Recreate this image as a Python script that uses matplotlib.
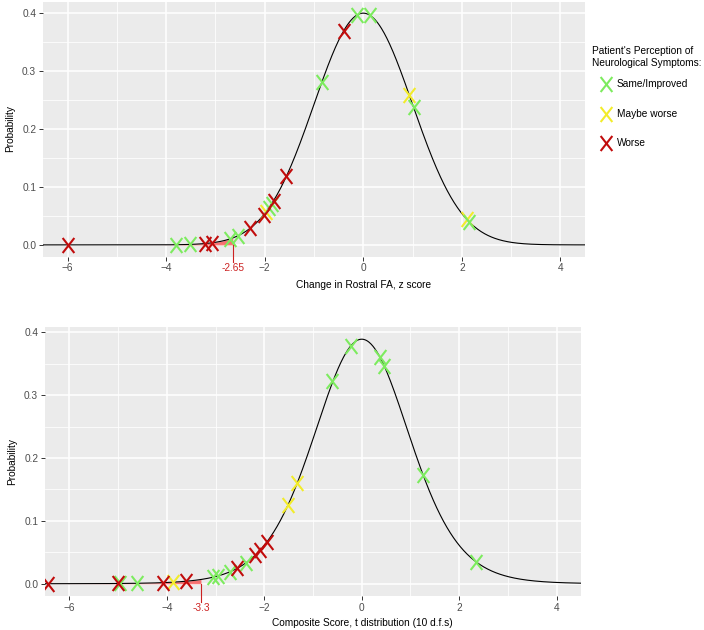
import numpy as np
import matplotlib
matplotlib.use("Agg")
import matplotlib.pyplot as plt
from matplotlib.path import Path
from matplotlib.lines import Line2D
from math import gamma, pi, sqrt

plt.rcParams['font.family'] = ['Liberation Sans', 'DejaVu Sans']

# ---- data ----
groups = ["Same/Improved", "Maybe worse", "Worse"]
colors = {"Same/Improved": "#7DEB5F", "Maybe worse": "#F2EC2B", "Worse": "#C10C0C"}

# top panel: change in rostral FA (z score) vs probability
fa_same_x = [-3.80, -3.51, -2.71, -2.55, -1.91, -1.86, -0.84, -0.12, 0.13, 1.02, 2.14]
fa_same_y = [0.0003, 0.0008, 0.010, 0.016, 0.064, 0.071, 0.280, 0.396, 0.396, 0.237, 0.040]
fa_maybe_x = [-1.98, 0.92, 2.10]
fa_maybe_y = [0.056, 0.258, 0.044]
fa_worse_x = [-6.0, -3.22, -3.08, -2.29, -2.02, -1.82, -1.56, -0.40]
fa_worse_y = [0.0, 0.002, 0.0035, 0.029, 0.052, 0.076, 0.118, 0.368]
fa_cut = -2.65

# bottom panel: composite score (t, 10 df) vs probability
cs_same_x = [-4.96, -4.62, -3.05, -2.94, -2.70, -2.38, -0.60, -0.23, 0.37, 0.46, 1.26, 2.35]
cs_same_y = [0.0004, 0.0007, 0.0105, 0.0127, 0.019, 0.033, 0.322, 0.378, 0.361, 0.347, 0.173, 0.035]
cs_maybe_x = [-3.87, -1.51, -1.32]
cs_maybe_y = [0.0025, 0.126, 0.161]
cs_worse_x = [-6.43, -5.01, -4.07, -3.61, -2.55, -2.19, -2.09, -1.95]
cs_worse_y = [0.0001, 0.0004, 0.0018, 0.004, 0.025, 0.045, 0.053, 0.066]
cs_cut = -3.3
t_df = 10

xlim = (-6.5, 4.5)

# X marker, a bit taller than wide
xmark = Path([(-0.78, -1), (0.78, 1), (-0.78, 1), (0.78, -1)],
             [Path.MOVETO, Path.LINETO, Path.MOVETO, Path.LINETO])


def normal_pdf(x):
    return np.exp(-x ** 2 / 2) / sqrt(2 * pi)


def t_pdf(x, df):
    c = gamma((df + 1) / 2) / (sqrt(df * pi) * gamma(df / 2))
    return c * (1 + x ** 2 / df) ** (-(df + 1) / 2)


def style_ax(ax, ylim):
    ax.set_facecolor("#EBEBEB")
    for s in ax.spines.values():
        s.set_visible(False)
    ax.set_xlim(*xlim)
    ax.set_ylim(*ylim)
    ax.set_xticks([-6, -4, -2, 0, 2, 4])
    ax.set_xticks([-5, -3, -1, 1, 3], minor=True)
    ax.set_yticks([0.0, 0.1, 0.2, 0.3, 0.4])
    ax.set_yticklabels(["0.0", "0.1", "0.2", "0.3", "0.4"])
    ax.set_yticks([0.05, 0.15, 0.25, 0.35], minor=True)
    ax.grid(which="major", color="white", linewidth=1.1)
    ax.grid(which="minor", color="white", linewidth=0.55)
    ax.set_axisbelow(True)
    ax.tick_params(which="major", length=2.7, width=0.7, color="#333333",
                   labelcolor="#4D4D4D", labelsize=7.3, pad=2.2)
    ax.tick_params(which="minor", length=0)
    ax.set_ylabel("Probability", fontsize=7.3, color="black", labelpad=5)


def draw_panel(ax, pdf, cut, pts, xlabel, cutlabel, label_xy):
    xs = np.linspace(xlim[0], xlim[1], 800)
    ys = pdf(xs)
    ax.plot(xs, ys, color="black", linewidth=0.8, zorder=2)
    xf = np.linspace(xlim[0], cut, 300)
    ax.fill_between(xf, 0, pdf(xf), color="#FF2020", alpha=0.6, linewidth=0, zorder=1.5)
    for g, (px, py) in pts:
        ax.plot(px, py, linestyle="none", marker=xmark, markersize=10.8,
                markeredgewidth=1.5, markeredgecolor=colors[g], markerfacecolor="none",
                zorder=3)
    ax.plot([cut, cut], [0, -0.029], color="#CC2222", linewidth=0.8, clip_on=False, zorder=4)
    ax.annotate(cutlabel, xy=(cut, 0), xycoords=ax.get_xaxis_transform(),
                xytext=(0, -4.9), textcoords="offset points", ha="center", va="top",
                fontsize=7.3, color="#CC2222")
    ax.set_xlabel(xlabel, fontsize=7.3, color="black", va="center")
    ax.xaxis.set_label_coords(*label_xy)


fig = plt.figure(figsize=(7.04, 6.30), dpi=100)
W, H = 704, 630

ax1 = fig.add_axes([43 / W, 1 - 256.5 / H, 542 / W, 255 / H])
style_ax(ax1, (-0.02, 0.419))
draw_panel(ax1, normal_pdf, fa_cut,
           [("Maybe worse", (fa_maybe_x, fa_maybe_y)),
            ("Same/Improved", (fa_same_x, fa_same_y)),
            ("Worse", (fa_worse_x, fa_worse_y))],
           "Change in Rostral FA, z score", "-2.65",
           ((364 - 43) / 542, (256.5 - 285.5) / 255))

ax2 = fig.add_axes([45 / W, 1 - 596 / H, 536 / W, 269 / H])
style_ax(ax2, (-0.0195, 0.4085))
draw_panel(ax2, lambda x: t_pdf(x, t_df), cs_cut,
           [("Maybe worse", (cs_maybe_x, cs_maybe_y)),
            ("Same/Improved", (cs_same_x, cs_same_y)),
            ("Worse", (cs_worse_x, cs_worse_y))],
           "Composite Score, t distribution (10 d.f.s)", "-3.3",
           ((362 - 45) / 536, (596 - 622.5) / 269))

# legend, placed by hand
fig.text(592 / W, 1 - 50.5 / H, "Patient's Perception of", fontsize=7.3, va="center", ha="left")
fig.text(592 / W, 1 - 63.5 / H, "Neurological Symptoms:", fontsize=7.3, va="center", ha="left")
for g, yk in zip(groups, [84.3, 114, 143.3]):
    fig.add_artist(Line2D([605.7 / W], [1 - yk / H], transform=fig.transFigure,
                          linestyle="none", marker=xmark, markersize=10.8,
                          markeredgewidth=1.5, markeredgecolor=colors[g]))
    fig.text(616.7 / W, 1 - yk / H, g, fontsize=7.3, va="center", ha="left")

fig.savefig("out.png", dpi=100)
